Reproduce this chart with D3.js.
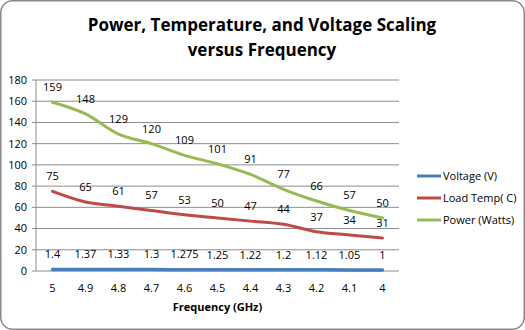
<!DOCTYPE html>
<html>
<head>
<meta charset="utf-8">
<script src="https://cdn.jsdelivr.net/npm/d3@7"></script>
<style>
  body { margin: 0; background: #fff; }
  svg text { font-family: "Open Sans", sans-serif; fill: #000; }
</style>
</head>
<body>
<div id="viz"></div>
<script>
// frequency steps and the three measured series
var freqs = ["5", "4.9", "4.8", "4.7", "4.6", "4.5", "4.4", "4.3", "4.2", "4.1", "4"];
var voltage = [1.4, 1.37, 1.33, 1.3, 1.275, 1.25, 1.22, 1.2, 1.12, 1.05, 1];
var loadTemp = [75, 65, 61, 57, 53, 50, 47, 44, 37, 34, 31];
var power = [159, 148, 129, 120, 109, 101, 91, 77, 66, 57, 50];
var yTicks = [0, 20, 40, 60, 80, 100, 120, 140, 160, 180];

var width = 525;
var height = 330;
var margin = {top: 80, right: 126, bottom: 59, left: 36};

var series = [
  {name: "Voltage (V)", values: voltage, color: "#4a7ebb", w: 3.5},
  {name: "Load Temp( C)", values: loadTemp, color: "#be4b48", w: 3},
  {name: "Power (Watts)", values: power, color: "#98b954", w: 3}
];

var svg = d3.select('#viz')
  .append('svg')
  .attr('width', width)
  .attr('height', height);

// chart frame
svg.append('rect')
  .attr('x', 0.75).attr('y', 0.75)
  .attr('width', width - 1.5).attr('height', height - 1.5)
  .attr('rx', 12)
  .attr('fill', '#fff')
  .attr('stroke', '#8a8a8a')
  .attr('stroke-width', 1.5);

var x = d3.scaleBand()
  .domain(freqs)
  .range([margin.left, width - margin.right]);

var y = d3.scaleLinear()
  .domain([0, 180])
  .range([height - margin.bottom, margin.top]);

var cx = d => x(d) + x.bandwidth() / 2;

// gridlines
svg.append('g')
  .selectAll('line')
  .data(yTicks)
  .join('line')
  .attr('x1', margin.left - 4)
  .attr('x2', width - margin.right)
  .attr('y1', d => y(d))
  .attr('y2', d => y(d))
  .attr('stroke', '#8c8c8c')
  .attr('stroke-width', 1);

svg.append('line')
  .attr('x1', margin.left).attr('x2', margin.left)
  .attr('y1', y(180)).attr('y2', y(0))
  .attr('stroke', '#8c8c8c');

// y tick labels
svg.append('g')
  .selectAll('text')
  .data(yTicks)
  .join('text')
  .attr('x', margin.left - 9)
  .attr('y', d => y(d))
  .attr('dy', '0.35em')
  .attr('text-anchor', 'end')
  .style('font-size', '11px')
  .text(d => d);

// x tick labels
svg.append('g')
  .selectAll('text')
  .data(freqs)
  .join('text')
  .attr('x', d => cx(d))
  .attr('y', 288)
  .attr('dy', '0.35em')
  .attr('text-anchor', 'middle')
  .style('font-size', '11px')
  .text(d => d);

svg.append('text')
  .attr('x', (margin.left + width - margin.right) / 2)
  .attr('y', 307)
  .attr('dy', '0.35em')
  .attr('text-anchor', 'middle')
  .style('font-size', '11px')
  .style('font-weight', 'bold')
  .text('Frequency (GHz)');

// title
var title = svg.append('text')
  .attr('text-anchor', 'middle')
  .style('font-size', '17px')
  .style('font-weight', 'bold');
title.append('tspan').attr('x', 262).attr('y', 31).text('Power, Temperature, and Voltage Scaling');
title.append('tspan').attr('x', 262).attr('y', 56).text('versus Frequency');

var line = d3.line()
  .x((d, i) => cx(freqs[i]))
  .y(d => y(d))
  .curve(d3.curveMonotoneX);

svg.append('g')
  .selectAll('path')
  .data(series)
  .join('path')
  .attr('fill', 'none')
  .attr('stroke', d => d.color)
  .attr('stroke-width', d => d.w)
  .attr('stroke-linecap', 'round')
  .attr('d', d => line(d.values));

// value labels above each point
series.forEach(function(s) {
  svg.append('g')
    .selectAll('text')
    .data(s.values)
    .join('text')
    .attr('x', (d, i) => cx(freqs[i]))
    .attr('y', d => y(d) - 15)
    .attr('dy', '0.35em')
    .attr('text-anchor', 'middle')
    .style('font-size', '11px')
    .text(d => d);
});

// legend
var legend = svg.append('g')
  .selectAll('g')
  .data(series)
  .join('g')
  .attr('transform', (d, i) => `translate(417, ${176 + i * 22})`);

legend.append('line')
  .attr('x1', 0).attr('x2', 24)
  .attr('stroke', d => d.color)
  .attr('stroke-width', 3);

legend.append('text')
  .attr('x', 26)
  .attr('dy', '0.35em')
  .style('font-size', '11px')
  .text(d => d.name);
</script>
</body>
</html>
